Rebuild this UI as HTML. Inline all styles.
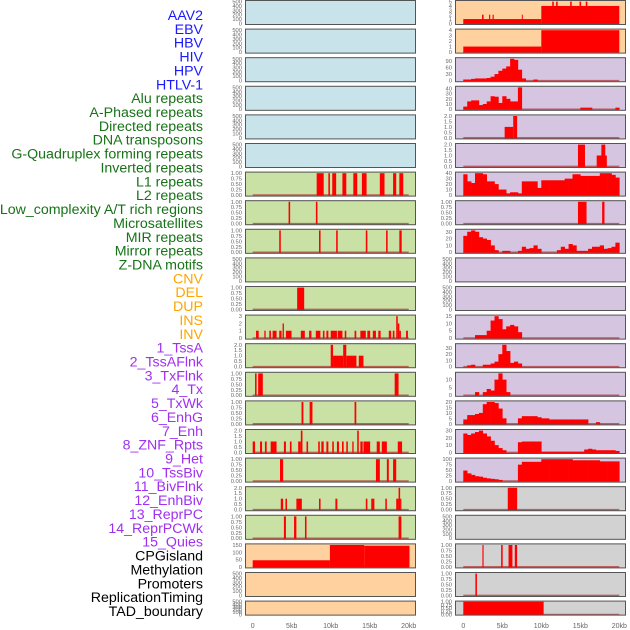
<!DOCTYPE html>
<html><head><meta charset="utf-8"><style>
html,body{margin:0;padding:0;background:#fff;width:630px;height:630px;overflow:hidden}
svg{display:block}
.lab{font-family:"Liberation Sans",sans-serif;font-size:14.2px}
.tick{font-family:"Liberation Sans",sans-serif;font-size:5.8px;fill:#666}
.xt{font-family:"Liberation Sans",sans-serif;font-size:7px;fill:#666}
</style></head><body>
<svg id="chart" width="630" height="630" viewBox="0 0 630 630" xmlns="http://www.w3.org/2000/svg"></svg>
<script>
// ---- labels ----
const labels = ["AAV2","EBV","HBV","HIV","HPV","HTLV-1","Alu repeats","A-Phased repeats","Directed repeats","DNA transposons","G-Quadruplex forming repeats","Inverted repeats","L1 repeats","L2 repeats","Low_complexity A/T rich regions","Microsatellites","MIR repeats","Mirror repeats","Z-DNA motifs","CNV","DEL","DUP","INS","INV","1_TssA","2_TssAFlnk","3_TxFlnk","4_Tx","5_TxWk","6_EnhG","7_Enh","8_ZNF_Rpts","9_Het","10_TssBiv","11_BivFlnk","12_EnhBiv","13_ReprPC","14_ReprPCWk","15_Quies","CPGisland","Methylation","Promoters","ReplicationTiming","TAD_boundary"];
const labelGroups = [6,13,5,15,5];
const xTicks = [0,5,10,15,20];
const xTickLabels = ["0","5kb","10kb","15kb","20kb"];

// ---- tick sets ----
const T500 = [0,100,200,300,400,500];
const T1 = [0,0.25,0.5,0.75,1];
const T2 = [0,0.5,1,1.5,2];

// ---- left column data (segments: [startKb, endKb, value]) ----
const segAlu = [[8.2,9.1,1],[9.7,9.9,1],[10.2,10.7,1],[11.5,12.0,1],[12.9,13.4,1],[14.0,14.6,1],[16.3,16.9,1],[18.0,18.4,1],[18.8,19.3,1]];
const segAPhased = [[4.6,4.8,1],[8.1,8.3,1]];
const segDirected = [[3.4,3.6,1],[8.5,8.7,1],[10.7,10.9,1],[14.5,14.7,1],[17.1,17.3,1],[18.8,19.1,1]];
const segGQuad = [[5.7,6.6,1]];
const segInverted = [[0.43,0.77,1],[1.49,1.66,1],[2.13,2.34,1],[2.55,3.06,1],[3.4,3.7,1],[3.83,4.0,2],[4.26,4.98,1],[6.17,6.68,1],[7.23,7.53,1],[8.09,8.68,1],[9.0,9.2,1],[9.45,9.7,1],[10.0,10.8,1],[10.9,11.5,1],[11.8,12.0,1],[13.06,13.28,1],[13.8,14.5,1],[14.7,15.06,1],[15.4,15.8,1],[16.1,16.4,1],[17.45,17.75,1],[17.96,18.17,1],[18.4,18.6,3],[18.6,18.8,2],[18.8,19.0,1],[19.66,19.9,1]];
const segL1 = [[10.0,10.3,2],[10.3,11.6,1],[11.6,12.0,2],[12.0,13.3,1],[13.6,14.2,1]];
const segL2 = [[0.3,0.5,1],[0.7,1.3,1],[18.2,18.7,1]];
const segLowCx = [[6.26,6.5,1],[7.3,7.66,1],[13.06,13.28,1]];
const segMicro = [[0,0.3,1],[0.94,1.2,1],[1.57,1.79,1],[2.3,3.06,1],[4.0,4.26,1],[4.77,4.98,1],[5.83,6.17,1],[6.17,6.38,2],[6.9,7.1,1],[8.4,8.6,1],[8.8,9.1,1],[9.45,9.7,1],[10.2,10.4,1],[10.8,11.06,1],[11.45,11.66,1],[12.0,12.2,1],[12.77,12.94,1],[13.4,13.6,2],[13.8,14.1,1],[14.2,15.06,1],[15.9,16.3,1],[16.55,17.2,1],[18.6,19.15,1]];
const segMIR = [[3.5,3.9,1],[15.8,16.3,1],[17.2,17.45,1],[18.0,18.4,1]];
const segMirror = [[3.6,3.9,1],[4.2,4.4,1],[5.6,6.3,1],[8.5,8.7,1],[10.6,10.85,1],[14.5,14.7,1],[15.2,15.6,1],[17.0,17.2,1],[18.4,18.7,1],[18.7,18.9,2],[18.9,19.06,1]];
const segZDNA = [[4.0,4.26,1],[5.3,5.6,1],[6.7,6.9,1],[18.7,19.06,1]];
const segCNV = [[0,9.9,45],[9.9,14.3,150],[14.3,20.1,145]];

// ---- right column data ----
const segINS = [[0,10,1],[10,20,4],[2.4,2.6,2],[3.3,3.45,2],[3.75,3.9,2],[7.5,7.6,2],[11.4,11.6,5],[11.9,12.1,5],[13.7,13.9,5],[14.9,15.1,5],[15.7,15.9,5]];
const segINV = [[0,10,1],[10,20,4]];
const binsTssA = [5,5,8,10,10,10,12,18,30,45,55,65,100,95,50,10,0,0,5,0,0,0,0,0,0,0,0,0,0,0,0,0,0,0,0,0,0,0,0,0];
const binsTssAFlnk = [5,15,17,17,8,10,15,25,24,12,25,20,15,15,42,0,0,0,0,0,0,0,0,0,0,0,0,0,0,0,3,3,3,0,0,0,0,0,0,3];
const segTxFlnk = [[5.3,6.4,1],[6.4,6.9,2]];
const segTx = [[14.7,15.6,2],[17.1,18.4,1],[17.7,18.2,2]];
const binsTxWk = [38,25,22,40,40,38,25,25,20,10,10,3,5,5,3,25,25,25,25,13,27,27,27,27,27,27,30,30,38,38,35,35,35,35,35,40,40,40,37,32];
const segEnhG = [[14.7,15.8,1],[17.8,18.1,1]];
const binsEnh = [24,30,32,30,22,20,18,10,3,0,2,2,0,0,2,8,5,6,10,5,0,0,0,0,3,8,5,12,10,2,2,2,5,8,8,10,5,6,8,14];
const binsTssBiv = [0,0,0,2,2,2,5,12,15,13,6,8,9,8,4,0,0,0,0,0,0,0,0,0,0,0,0,0,0,0,0,0,0,0,0,0,0,0,0,0];
const binsBivFlnk = [0,2,3,0,0,3,3,5,8,20,35,25,6,8,5,0,0,0,0,0,0,0,0,0,0,0,0,0,0,0,0,0,0,0,0,0,0,0,0,0];
const binsEnhBiv = [0,0,0,2,0,2,4,3,10,14,10,2,0,0,0,0,0,0,0,0,0,0,0,0,0,0,0,0,0,0,0,0,0,0,0,0,0,0,0,0];
const binsReprPC = [4,8,8,9,10,18,20,20,19,14,5,0,0,0,5,7,7,7,7,6,5,5,4,4,4,4,4,4,4,4,4,4,0,0,1.5,0,0,0,0,0];
const binsReprPCWk = [26,24,26,28,30,26,22,16,10,6,3,0,0,0,14,15,15,15,15,15,1,1,1,1,1,1,1,1,1,1,1,4,5,4,3,3,3,3,3,2];
const binsQuies = [48,35,28,22,20,15,12,10,8,5,0,0,0,0,75,88,88,88,88,88,100,100,100,100,100,100,100,100,95,95,95,95,95,95,95,90,90,90,90,90];
const segCpG = [[5.7,6.9,1]];
const segPromoters = [[2.45,2.6,1],[4.85,5.05,1],[5.8,6.3,1],[6.6,6.9,1]];
const segRepTiming = [[1.55,1.75,1]];
const segTAD = [[0,10.3,1]];

const leftPanels = [
 {bg:0,ticks:T500},{bg:0,ticks:T500},{bg:0,ticks:T500},{bg:0,ticks:T500},{bg:0,ticks:T500},{bg:0,ticks:T500},
 {bg:1,ticks:T1,seg:segAlu},{bg:1,ticks:T1,seg:segAPhased},{bg:1,ticks:T1,seg:segDirected},{bg:1,ticks:T500},
 {bg:1,ticks:T1,seg:segGQuad},{bg:1,ticks:[0,1,2,3],seg:segInverted},{bg:1,ticks:T2,seg:segL1},{bg:1,ticks:T1,seg:segL2},
 {bg:1,ticks:T1,seg:segLowCx},{bg:1,ticks:T2,seg:segMicro},{bg:1,ticks:T1,seg:segMIR},{bg:1,ticks:T2,seg:segMirror},
 {bg:1,ticks:T1,seg:segZDNA},{bg:2,ticks:[0,50,100,150],seg:segCNV},{bg:2,ticks:T500},{bg:2,ticks:T500}
];
const rightPanels = [
 {bg:2,ticks:[0,1,2,3,4,5],seg:segINS},{bg:2,ticks:[0,1,2,3,4],seg:segINV},
 {bg:3,ticks:[0,30,60,90],bins:binsTssA},{bg:3,ticks:[0,10,20,30,40],bins:binsTssAFlnk},{bg:3,ticks:T2,seg:segTxFlnk},
 {bg:3,ticks:T2,seg:segTx},{bg:3,ticks:[0,10,20,30,40],bins:binsTxWk},{bg:3,ticks:T1,seg:segEnhG},{bg:3,ticks:[0,10,20,30],bins:binsEnh},
 {bg:3,ticks:T500},{bg:3,ticks:T500},{bg:3,ticks:[0,5,10,15],bins:binsTssBiv},{bg:3,ticks:[0,10,20,30],bins:binsBivFlnk},
 {bg:3,ticks:[0,5,10],bins:binsEnhBiv},{bg:3,ticks:[0,5,10,15,20],bins:binsReprPC},{bg:3,ticks:[0,10,20,30],bins:binsReprPCWk},
 {bg:3,ticks:[0,25,50,75,100],bins:binsQuies},{bg:4,ticks:T1,seg:segCpG},{bg:4,ticks:T500},{bg:4,ticks:T1,seg:segPromoters},
 {bg:4,ticks:T1,seg:segRepTiming},{bg:4,ticks:T1,seg:segTAD}
];
const bgColors = ["#c9e3ea","#c9e1a4","#ffd19f","#d6c5e1","#d2d2d2"];
const labelColors = ["#1a1aff","#177317","#ffa500","#a030f0","#000000"];

const NS = "http://www.w3.org/2000/svg";
const svg = document.getElementById("chart");
function mk(tag, attrs, parent){ const e=document.createElementNS(NS,tag); for(const k in attrs) e.setAttribute(k,attrs[k]); (parent||svg).appendChild(e); return e; }

// labels
let gi=0, cnt=0;
labels.forEach((t,i)=>{
  while(cnt>=labelGroups[gi]){gi++;cnt=0;}
  cnt++;
  const el=mk("text",{x:203,y:15+i*13.86+5,"text-anchor":"end",class:"lab",fill:labelColors[gi]});
  el.textContent=t;
  
  
});

function fmt(v,ticks){
  const dec = ticks===T1?2:(ticks===T2?1:0);
  return v.toFixed(dec);
}

function drawPanel(p, col, row){
  const left = col===0?245:455, right = col===0?416:626;
  const x0 = col===0?252.7:463.3, kb=7.8;
  const top = row*28.6, h = row===21?15:25, bottom=top+h;
  const g=mk("g",{});
  
  
  mk("rect",{x:left,y:top,width:right-left,height:h,fill:bgColors[p.bg]},g);
  let dmax=0;
  if(p.seg) p.seg.forEach(s=>dmax=Math.max(dmax,s[2]));
  if(p.bins) p.bins.forEach(v=>dmax=Math.max(dmax,v));
  const ymax=Math.max(dmax,p.ticks[p.ticks.length-1]);
  const lo=-0.05*ymax, hi=1.05*ymax;
  const ys=v=>bottom-0.5-(v-lo)/(hi-lo)*(h-1);
  const xs=k=>x0+k*kb;
  if(p.seg||p.bins){
    const bl=mk("line",{x1:xs(0),x2:xs(20),y1:ys(0),y2:ys(0),stroke:"#b03030","stroke-width":1.5,opacity:0.7},g);
    
    
  }
  if(p.seg) p.seg.forEach(s=>{
    const r=mk("rect",{x:xs(s[0]),y:ys(s[2]),width:Math.max(1,xs(s[1])-xs(s[0])),height:ys(0)-ys(s[2])+0.5,fill:"#ff0000"},g);
    
    
  });
  if(p.bins) p.bins.forEach((v,i)=>{
    if(v<=0) return;
    const r=mk("rect",{x:xs(i*0.5),y:ys(v),width:xs(0.5)-xs(0)+0.3,height:ys(0)-ys(v)+0.5,fill:"#ff0000"},g);
    
    
  });
  mk("rect",{x:left+0.5,y:top+0.5,width:right-left-1,height:h-1,fill:"none",stroke:"#555","stroke-width":1},g);
  p.ticks.forEach(t=>{
    const tx=mk("text",{x:left-3,y:ys(t)+2,"text-anchor":"end",class:"tick"},g);
    tx.textContent=fmt(t,p.ticks);
    
    
  });
}
leftPanels.forEach((p,i)=>drawPanel(p,0,i));
rightPanels.forEach((p,i)=>drawPanel(p,1,i));

[252.7,463.3].forEach((x0,c)=>{
  xTicks.forEach((k,i)=>{
    const t=mk("text",{x:x0+k*7.8,y:628,"text-anchor":"middle",class:"xt"});
    t.textContent=xTickLabels[i];
    
    
  });
});
</script>
</body></html>
